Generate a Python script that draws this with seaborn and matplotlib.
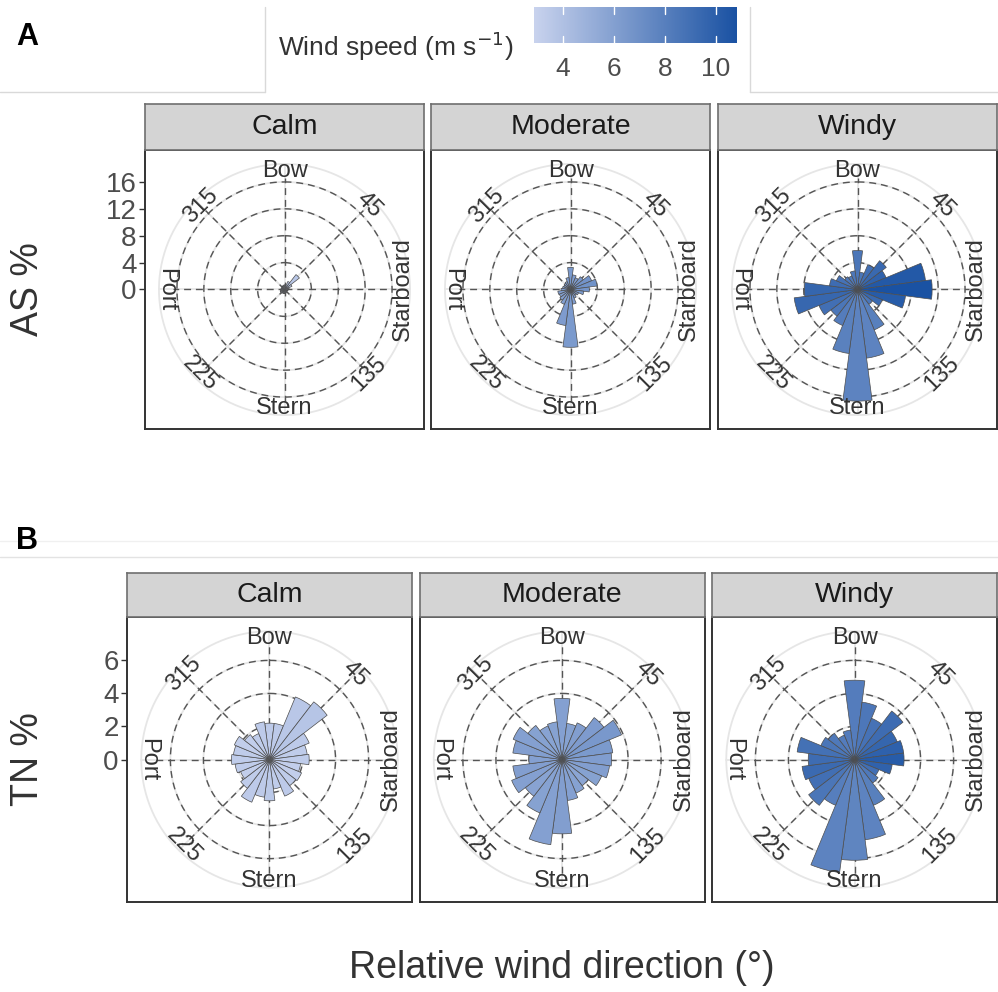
import numpy as np
import matplotlib
matplotlib.use("Agg")
import matplotlib.pyplot as plt
from matplotlib.lines import Line2D
from matplotlib.colors import Normalize
import seaborn as sns

# ---------------- data ----------------
directions = np.arange(0, 360, 15)          # bin centres, degrees clockwise from bow
bin_width = 15
conditions = ["Calm", "Moderate", "Windy"]
compass_angles = [0, 45, 90, 135, 180, 225, 270, 315]
compass_labels = ["Bow", "45", "Starboard", "135", "Stern", "225", "Port", "315"]

as_breaks = [0, 4, 8, 12, 16]
tn_breaks = [0, 2, 4, 6]
speed_ticks = [4, 6, 8, 10]
speed_range = (2.86, 10.82)

# AS: percentage of observations per direction bin
as_calm_pct = [0.7, 0.6, 1.3, 2.8, 1.2, 0.7, 0.6, 0.5, 0.4, 0.5, 0.5, 0.6,
               0.6, 0.6, 0.6, 0.7, 0.7, 0.6, 0.6, 0.5, 0.5, 0.5, 0.6, 0.6]
as_moderate_pct = [3.3, 2.2, 1.9, 2.4, 3.4, 4.0, 2.8, 2.0, 1.3, 1.1, 1.4, 2.2,
                   8.6, 5.4, 2.4, 2.0, 1.8, 1.9, 1.4, 1.2, 1.1, 1.2, 1.3, 1.8]
as_windy_pct = [5.8, 2.6, 4.0, 5.4, 4.6, 10.2, 11.1, 7.2, 4.0, 2.8, 6.5, 10.3,
                16.6, 9.6, 5.8, 5.0, 6.2, 9.5, 7.9, 4.2, 3.4, 2.4, 2.2, 2.8]

# AS: mean wind speed (m/s) per direction bin
as_calm_speed = [3.3, 3.3, 3.4, 3.6, 3.4, 3.2, 3.2, 3.1, 3.1, 3.2, 3.2, 3.3,
                 3.3, 3.3, 3.2, 3.3, 3.3, 3.2, 3.2, 3.2, 3.1, 3.2, 3.2, 3.3]
as_moderate_speed = [6.4, 6.2, 6.2, 6.5, 6.8, 6.9, 6.7, 6.4, 6.1, 6.0, 6.1, 6.2,
                     6.4, 6.3, 6.1, 6.0, 6.1, 6.2, 6.2, 6.0, 6.0, 6.1, 6.2, 6.3]
as_windy_speed = [8.6, 8.6, 9.0, 9.4, 9.8, 10.4, 10.8, 10.2, 9.4, 8.6, 8.0, 7.8,
                  7.8, 7.9, 8.2, 8.6, 9.0, 9.5, 9.6, 9.2, 8.8, 8.5, 8.4, 8.5]

# TN: percentage of observations per direction bin
tn_calm_pct = [2.2, 2.2, 4.1, 4.4, 2.6, 2.3, 2.4, 1.9, 2.1, 2.0, 2.4, 1.8,
               2.5, 2.3, 2.8, 2.2, 1.9, 2.1, 2.3, 2.2, 2.3, 1.9, 1.7, 2.3]
tn_moderate_pct = [3.7, 2.2, 2.4, 3.2, 3.9, 3.1, 3.0, 2.9, 2.6, 2.0, 2.2, 2.5,
                   4.5, 5.2, 3.5, 2.8, 3.3, 3.0, 2.0, 3.0, 3.2, 2.6, 2.2, 2.3]
tn_windy_pct = [4.8, 3.5, 2.7, 3.7, 2.8, 3.0, 3.0, 2.3, 1.6, 1.8, 3.0, 4.9,
                6.1, 6.9, 3.0, 3.5, 3.0, 3.2, 2.8, 3.5, 2.2, 2.0, 1.6, 1.8]

# TN: mean wind speed (m/s) per direction bin
tn_calm_speed = [3.4, 3.4, 3.6, 3.7, 3.4, 3.3, 3.3, 3.2, 3.2, 3.3, 3.4, 3.3,
                 3.5, 3.4, 3.4, 3.3, 3.2, 3.3, 3.3, 3.3, 3.2, 3.2, 3.3, 3.4]
tn_moderate_speed = [6.0, 5.9, 6.1, 6.3, 6.5, 6.4, 6.2, 6.1, 5.9, 5.7, 5.9, 6.0,
                     6.1, 6.0, 5.9, 5.8, 6.0, 6.1, 6.0, 6.1, 6.0, 5.9, 5.8, 5.9]
tn_windy_speed = [8.2, 8.5, 8.8, 9.2, 9.6, 9.9, 10.2, 9.8, 9.0, 8.4, 8.0, 7.8,
                  7.7, 7.8, 8.1, 8.6, 9.0, 9.3, 9.2, 8.9, 8.6, 8.4, 8.2, 8.2]

rows = [
    dict(tag="A", ylabel="AS %", breaks=as_breaks,
         pct=[as_calm_pct, as_moderate_pct, as_windy_pct],
         speed=[as_calm_speed, as_moderate_speed, as_windy_speed]),
    dict(tag="B", ylabel="TN %", breaks=tn_breaks,
         pct=[tn_calm_pct, tn_moderate_pct, tn_windy_pct],
         speed=[tn_calm_speed, tn_moderate_speed, tn_windy_speed]),
]

# ---------------- style ----------------
sns.set_theme(style="white")
plt.rcParams["font.family"] = ["Liberation Sans", "DejaVu Sans"]
cmap = sns.blend_palette(["#c9d3ee", "#1a52a3"], as_cmap=True)
norm = Normalize(*speed_range)

W, H = 998, 992
fig = plt.figure(figsize=(W / 100, H / 100), dpi=100)


def px_rect(x, y, w, h):
    return [x / W, 1 - (y + h) / H, w / W, h / H]


def fig_line(xs, ys, color, lw=1.0):
    fig.add_artist(Line2D([x / W for x in xs], [1 - y / H for y in ys],
                          transform=fig.transFigure, color=color, lw=lw))


# panel geometry (pixels): left edges, top, size, strip height
layout = {
    "A": dict(lefts=[145, 431, 718], top=150, size=279, strip=46),
    "B": dict(lefts=[127, 419.5, 712], top=617, size=285, strip=44),
}

text_dark = "#333333"
rot_map = {0: 0, 45: -45, 90: 90, 135: 45, 180: 0, 225: -45, 270: -90, 315: 45}

for row in rows:
    geo = layout[row["tag"]]
    rmax = max(max(p) for p in row["pct"])
    R = rmax / 0.8                      # data radius at the panel half-width
    size = geo["size"]
    for j, cond in enumerate(conditions):
        x0 = geo["lefts"][j]
        y0 = geo["top"]
        # frame / y axis
        fax = fig.add_axes(px_rect(x0, y0, size, size))
        fax.set_xlim(-R, R)
        fax.set_ylim(-R, R)
        fax.set_xticks([])
        fax.set_facecolor("white")
        for s in fax.spines.values():
            s.set_color("#333333")
            s.set_linewidth(1.4)
        if j == 0:
            fax.set_yticks(row["breaks"])
            fax.set_yticklabels([str(b) for b in row["breaks"]])
            fax.tick_params(axis="y", length=4, width=1, color="#333333",
                            labelsize=20, labelcolor="#4d4d4d", pad=2, left=True)
        else:
            fax.set_yticks([])

        # strip
        sax = fig.add_axes(px_rect(x0, y0 - geo["strip"], size, geo["strip"]))
        sax.set_facecolor("#d4d4d4")
        sax.set_xticks([])
        sax.set_yticks([])
        for s in sax.spines.values():
            s.set_color("#6e6e6e")
            s.set_linewidth(1.2)
        sax.text(0.5, 0.5, cond, ha="center", va="center", fontsize=20.5,
                 color="#1a1a1a", transform=sax.transAxes)

        # polar rose
        pax = fig.add_axes(px_rect(x0, y0, size, size), projection="polar")
        pax.set_theta_zero_location("N")
        pax.set_theta_direction(-1)
        pax.set_ylim(0, R)
        pax.set_xticks([])
        pax.set_yticks([])
        pax.grid(False)
        pax.spines["polar"].set_visible(False)
        pax.patch.set_visible(False)

        tfine = np.linspace(0, 2 * np.pi, 400)
        # light background grid
        for rr in list(row["breaks"][1:]) + [0.9 * R]:
            pax.plot(tfine, np.full_like(tfine, rr), color="#e6e6e6", lw=1.3, zorder=1)
        for a in compass_angles:
            pax.plot([np.deg2rad(a)] * 2, [0, 0.9 * R], color="#e6e6e6", lw=1.3, zorder=1)
        # dashed reference grid
        for rr in row["breaks"][1:]:
            pax.plot(tfine, np.full_like(tfine, rr), color="#555555", lw=1.0,
                     ls=(0, (5, 3.5)), zorder=2)
        for a in compass_angles:
            pax.plot([np.deg2rad(a)] * 2, [0, rmax], color="#555555", lw=1.0,
                     ls=(0, (5, 3.5)), zorder=2)

        # bars
        colors = cmap(norm(np.array(row["speed"][j])))
        pax.bar(np.deg2rad(directions), row["pct"][j], width=np.deg2rad(bin_width),
                bottom=0, align="center", color=colors, edgecolor="#4d4d4d",
                linewidth=0.5, zorder=3)

        # compass labels
        for a, lab in zip(compass_angles, compass_labels):
            pax.text(np.deg2rad(a), 1.065 * rmax, lab, rotation=rot_map[a],
                     rotation_mode="anchor", ha="center", va="center",
                     fontsize=17, color=text_dark, zorder=4)

    # row title
    cy = geo["top"] + size / 2
    fig.text(28 / W, 1 - cy / H, row["ylabel"], rotation=90, ha="center",
             va="center", fontsize=27, color=text_dark)

fig.text(27 / W, 1 - 37 / H, "A", fontsize=22, fontweight="bold", ha="center",
         va="center", color="black")
fig.text(27 / W, 1 - 541 / H, "B", fontsize=22, fontweight="bold", ha="center",
         va="center", color="black")

fig.text(562 / W, 1 - 968 / H, "Relative wind direction (°)", ha="center",
         va="center", fontsize=27, color=text_dark)

# colour bar legend
cax = fig.add_axes(px_rect(534, 7, 203, 36))
grad = np.linspace(speed_range[0], speed_range[1], 256)[None, :]
cax.imshow(grad, cmap=cmap, norm=norm, aspect="auto",
           extent=[speed_range[0], speed_range[1], 0, 1])
cax.set_xlim(*speed_range)
cax.set_ylim(0, 1)
for v in speed_ticks:
    cax.plot([v, v], [0, 0.2], color="white", lw=1)
    cax.plot([v, v], [0.8, 1], color="white", lw=1)
cax.set_yticks([])
cax.set_xticks(speed_ticks)
cax.set_xticklabels([str(v) for v in speed_ticks])
cax.tick_params(axis="x", length=0, labelsize=19, labelcolor="#4d4d4d", pad=10)
for s in cax.spines.values():
    s.set_visible(False)
fig.text(278 / W, 1 - 46 / H, "Wind speed (m s$^{-1}$)", ha="left", va="center",
         fontsize=19, color=text_dark)

# frame lines between figure blocks
fig_line([0, 265], [92, 92], "#d9d9d9")
fig_line([265, 265], [7, 92], "#d9d9d9")
fig_line([750, 750], [7, 92], "#d9d9d9")
fig_line([750, 998], [92, 92], "#d9d9d9")
fig_line([0, 998], [541, 541], "#f0f0f0")
fig_line([0, 998], [557, 557], "#e3e3e3")

fig.savefig("out.png", dpi=100, facecolor="white")
